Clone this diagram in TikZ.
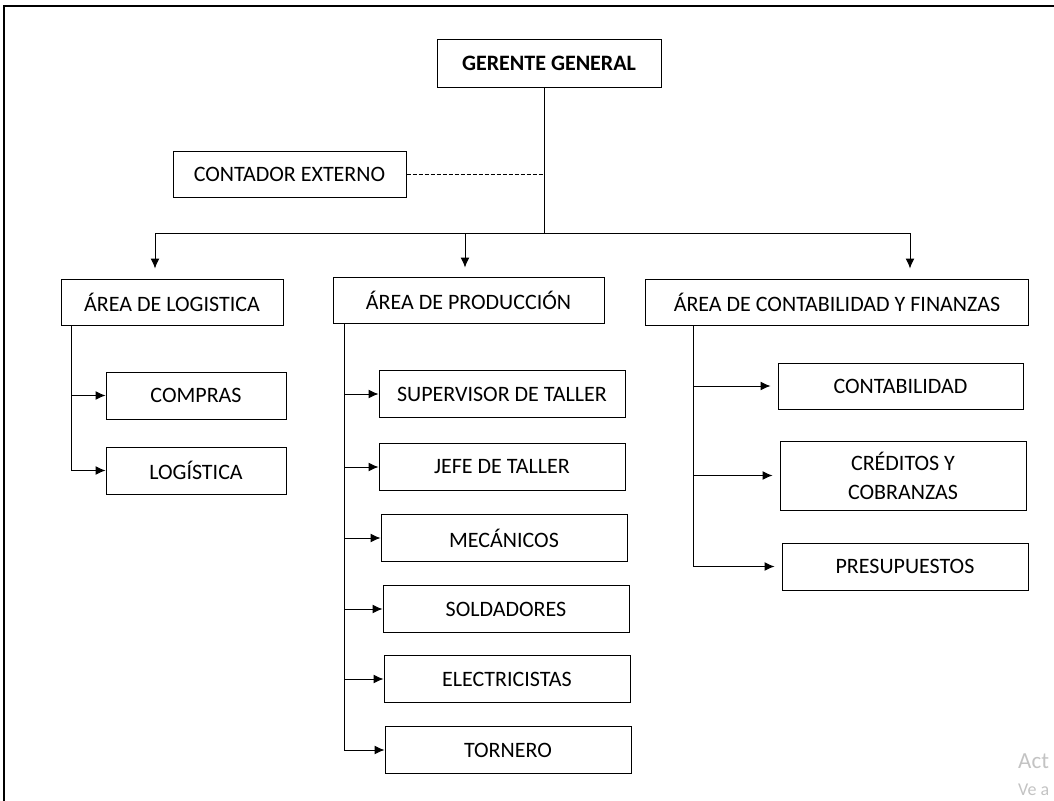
\documentclass[tikz,border=0pt]{standalone}
\usepackage{fontspec}
\setmainfont{Carlito}
\usepackage{xcolor}
\usepackage{tikz}
\definecolor{watermark}{RGB}{195,195,195}
\usetikzlibrary{arrows.meta,positioning}

\begin{document}
\begin{tikzpicture}[
    x=1pt, y=-1pt,
    node distance=23pt,
    box/.style={rectangle, draw=black, line width=1pt, minimum width=246pt, minimum height=47pt, text centered, inner sep=2pt, font=\fontsize{22}{29}\selectfont},
    arrow/.style={-{Latex[length=10pt,width=9pt]}, line width=1pt},
    line/.style={line width=1pt}
]
\clip (0,0) rectangle (1054,800);

% Frame
\draw[line width=1.5pt] (4,810) -- (4,6) -- (1060,6);

% Top
\node[box, minimum width=224pt, font=\fontsize{22}{29}\selectfont\bfseries] (gerente) at (549,63.5) {GERENTE GENERAL};
\node[box, minimum width=233pt, minimum height=46pt] (contador) at (289.5,174) {CONTADOR EXTERNO};

% Areas
\node[box, minimum width=222pt, minimum height=46pt] (alog) at (172,302) {ÁREA DE LOGISTICA};
\node[box, minimum width=271pt, minimum height=46pt] (aprod) at (468.5,300) {ÁREA DE PRODUCCIÓN};
\node[box, minimum width=383pt, minimum height=46pt] (acont) at (837,302) {ÁREA DE CONTABILIDAD Y FINANZAS};

% Logistica
\node[box, minimum width=180pt] (compras) at (196,395.5) {COMPRAS};
\node[box, minimum width=180pt, below=27pt of compras] (logist) {LOGÍSTICA};

% Produccion
\node[box] (superv) at (502,394) {SUPERVISOR DE TALLER};
\node[box, below=25pt of superv] (jefe) {JEFE DE TALLER};
\node[box, below=of jefe, xshift=2pt] (mecan) {MECÁNICOS};
\node[box, below=of mecan, xshift=2pt] (soldad) {SOLDADORES};
\node[box, below=22pt of soldad, xshift=1pt] (electr) {ELECTRICISTAS};
\node[box, below=of electr, xshift=1pt] (torner) {TORNERO};

% Contabilidad
\node[box, minimum width=245pt, minimum height=46pt] (contab) at (900.5,386) {CONTABILIDAD};
\node[box, minimum height=69pt, align=center] (credit) at (903,475.5) {CRÉDITOS Y\\COBRANZAS};
\node[box] (presup) at (905,566.5) {PRESUPUESTOS};

% Watermark
\node[anchor=base west, inner sep=0pt, text=watermark, font=\fontsize{23}{23}\selectfont] (wm1) at (1018,768) {Act};
\node[anchor=base west, inner sep=0pt, text=watermark, font=\fontsize{18}{18}\selectfont] (wm2) at (1018,795) {Ve a};

% Connectors
\coordinate (gtop) at ([xshift=-5pt]gerente.south);
\coordinate (bl) at (155,233);
\coordinate (bm) at (465,233);
\coordinate (br) at (910,233);
\draw[line] (gtop) -- (gtop |- bl);
\draw[line] (bl) -- (br);
\draw[line, dash pattern=on 4pt off 2pt] (contador.east) -- (contador.east -| gtop);
\draw[arrow, shorten >=10pt] (bl) -- (bl |- alog.north);
\draw[arrow, shorten >=9pt] (bm) -- (bm |- aprod.north);
\draw[arrow, shorten >=10pt] (br) -- (br |- acont.north);

\coordinate (slog) at ([xshift=11pt]alog.south west);
\draw[arrow] (slog |- compras.west) -- (compras.west);
\draw[arrow] (slog) |- (logist.west);

\coordinate (sprod) at ([xshift=12pt]aprod.south west);
\foreach \n in {superv,jefe,mecan,soldad,electr}
    \draw[arrow] (sprod |- \n.west) -- (\n.west);
\draw[arrow] (sprod) |- (torner.west);

\coordinate (scont) at ([xshift=48pt]acont.south west);
\draw[arrow, shorten >=7pt] (scont |- contab.west) -- (contab.west);
\draw[arrow, shorten >=7pt] (scont |- credit.west) -- (credit.west);
\draw[arrow, shorten >=7pt] (scont) |- (presup.west);

\end{tikzpicture}
\end{document}
